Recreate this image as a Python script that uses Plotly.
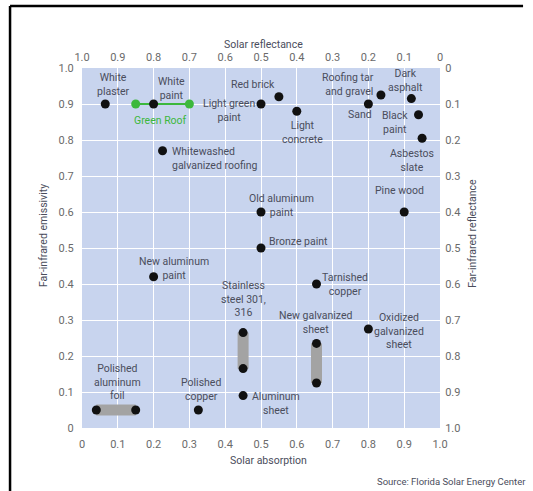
import plotly.graph_objects as go

# ---------------- data ----------------
# single-point materials: solar absorption (x), far-infrared emissivity (y)
point_names = ["White plaster", "White paint", "Whitewashed galvanized roofing",
               "Light green paint", "Red brick", "Light concrete", "Sand",
               "Roofing tar and gravel", "Dark asphalt", "Black paint",
               "Asbestos slate", "Pine wood", "Old aluminum paint", "Bronze paint",
               "New aluminum paint", "Tarnished copper", "Oxidized galvanized sheet",
               "Aluminum sheet", "Polished copper"]
point_absorption = [0.065, 0.20, 0.225, 0.50, 0.55, 0.60, 0.80, 0.835, 0.92, 0.94,
                    0.95, 0.90, 0.50, 0.50, 0.20, 0.655, 0.80, 0.45, 0.325]
point_emissivity = [0.90, 0.90, 0.77, 0.90, 0.92, 0.88, 0.90, 0.925, 0.915, 0.87,
                    0.805, 0.60, 0.60, 0.50, 0.42, 0.40, 0.275, 0.09, 0.05]

# range materials: (absorption start, end), (emissivity start, end)
range_names = ["Polished aluminum foil", "Stainless steel 301, 316", "New galvanized sheet"]
range_absorption = [(0.04, 0.15), (0.45, 0.45), (0.655, 0.655)]
range_emissivity = [(0.05, 0.05), (0.165, 0.265), (0.125, 0.235)]

green_roof_absorption = [0.15, 0.30]
green_roof_emissivity = [0.90, 0.90]

tick_values = [0, 0.1, 0.2, 0.3, 0.4, 0.5, 0.6, 0.7, 0.8, 0.9, 1.0]
tick_labels = ["0", "0.1", "0.2", "0.3", "0.4", "0.5", "0.6", "0.7", "0.8", "0.9", "1.0"]
reverse_tick_labels = ["1.0", "0.9", "0.8", "0.7", "0.6", "0.5", "0.4", "0.3", "0.2", "0.1", "0"]

# ---------------- label layout (text, x, y, xanchor) ----------------
labels = [
    ("White<br>plaster", 0.087, 0.953, "center"),
    ("White<br>paint", 0.251, 0.944, "center"),
    ("Light green<br>paint", 0.41, 0.883, "center"),
    ("Whitewashed<br>galvanized roofing", 0.246, 0.75, "left"),
    ("Red brick", 0.478, 0.953, "center"),
    ("Light<br>concrete", 0.615, 0.822, "center"),
    ("Roofing tar<br>and gravel", 0.82, 0.955, "right"),
    ("Dark<br>asphalt", 0.905, 0.964, "center"),
    ("Sand", 0.776, 0.872, "center"),
    ("Black<br>paint", 0.874, 0.85, "center"),
    ("Asbestos<br>slate", 0.922, 0.744, "center"),
    ("Pine wood", 0.886, 0.661, "center"),
    ("Old aluminum<br>paint", 0.556, 0.617, "center"),
    ("Bronze paint", 0.517, 0.519, "left"),
    ("New aluminum<br>paint", 0.257, 0.444, "center"),
    ("Tarnished<br>copper", 0.735, 0.40, "center"),
    ("Stainless<br>steel 301,<br>316", 0.45, 0.358, "center"),
    ("New galvanized<br>sheet", 0.651, 0.294, "center"),
    ("Oxidized<br>galvanized<br>sheet", 0.885, 0.269, "center"),
    ("Polished<br>aluminum<br>foil", 0.098, 0.128, "center"),
    ("Polished<br>copper", 0.332, 0.108, "center"),
    ("Aluminum<br>sheet", 0.542, 0.069, "center"),
]

FONT = "Roboto, Arial, sans-serif"
TXT = "#4a4d5c"
BG = "#c8d4ee"
FS = 10.5

fig = go.Figure()

# range bars
for (xa, xb), (ya, yb), nm in zip(range_absorption, range_emissivity, range_names):
    fig.add_trace(go.Scatter(x=[xa, xb], y=[ya, yb], mode="lines",
                             line=dict(color="#a3a3a3", width=11),
                             hoverinfo="skip", showlegend=False))
    fig.add_trace(go.Scatter(x=[xa, xb], y=[ya, yb], mode="markers", name=nm,
                             marker=dict(color="#111111", size=9),
                             showlegend=False))

# green roof
fig.add_trace(go.Scatter(x=green_roof_absorption, y=green_roof_emissivity,
                         mode="lines+markers", name="Green Roof",
                         line=dict(color="#3cb83c", width=2),
                         marker=dict(color="#3cb83c", size=9), showlegend=False))

# single points
fig.add_trace(go.Scatter(x=point_absorption, y=point_emissivity, mode="markers",
                         text=point_names, marker=dict(color="#111111", size=9),
                         showlegend=False))

# secondary-axis helper trace (invisible)
fig.add_trace(go.Scatter(x=[0, 1], y=[0, 1], xaxis="x2", yaxis="y2", mode="markers",
                         marker=dict(opacity=0), hoverinfo="skip", showlegend=False))

annotations = []
for txt, x, y, anc in labels:
    annotations.append(dict(text=txt, x=x, y=y, xref="x", yref="y", xanchor=anc,
                            yanchor="middle", align=anc,
                            showarrow=False, font=dict(family=FONT, size=FS, color=TXT)))
annotations.append(dict(text="Green Roof", x=0.218, y=0.855, xref="x", yref="y",
                        xanchor="center", yanchor="middle",
                        showarrow=False, font=dict(family=FONT, size=FS, color="#3cb83c")))

# axis titles & source
annotations += [
    dict(text="Solar reflectance", x=0.506, y=1.064, xref="paper", yref="paper",
         xanchor="center", yanchor="middle",
         showarrow=False, font=dict(family=FONT, size=FS, color=TXT)),
    dict(text="Solar absorption", x=0.52, y=-0.089, xref="paper", yref="paper",
         xanchor="center", yanchor="middle",
         showarrow=False, font=dict(family=FONT, size=FS, color=TXT)),
    dict(text="Far-infrared emissivity", x=-0.109, y=0.536, xref="paper", yref="paper",
         xanchor="center", yanchor="middle",
         textangle=-90, showarrow=False, font=dict(family=FONT, size=FS, color=TXT)),
    dict(text="Far-infrared reflectance", x=1.092, y=0.542, xref="paper", yref="paper",
         xanchor="center", yanchor="middle",
         textangle=-90, showarrow=False, font=dict(family=FONT, size=FS, color=TXT)),
    dict(text="Source: Florida Solar Energy Center", x=1.246, y=-0.15, xref="paper",
         yref="paper", xanchor="right", yanchor="middle", showarrow=False,
         font=dict(family=FONT, size=9.5, color=TXT)),
]

tickfont = dict(family=FONT, size=11, color="#6a6a6a")

fig.update_layout(
    width=533, height=491,
    margin=dict(l=82, r=93, t=68, b=63),
    paper_bgcolor="white", plot_bgcolor=BG,
    font=dict(family=FONT, color=TXT),
    annotations=annotations,
    xaxis=dict(range=[0, 1], tickvals=tick_values, ticktext=tick_labels,
               showgrid=True, gridcolor="white", gridwidth=1, zeroline=False,
               ticks="outside", ticklen=6, tickcolor="rgba(0,0,0,0)",
               tickfont=tickfont, showline=False, fixedrange=True),
    yaxis=dict(range=[0, 1], tickvals=tick_values, ticktext=tick_labels,
               showgrid=True, gridcolor="white", gridwidth=1, zeroline=False,
               ticks="outside", ticklen=5, tickcolor="rgba(0,0,0,0)",
               tickfont=tickfont, showline=False, fixedrange=True),
    xaxis2=dict(range=[0, 1], overlaying="x", side="top", anchor="free", position=1,
                tickvals=tick_values, ticktext=reverse_tick_labels,
                showgrid=False, zeroline=False, ticks="outside", ticklen=3,
                tickcolor="rgba(0,0,0,0)", tickfont=tickfont, fixedrange=True),
    yaxis2=dict(range=[0, 1], overlaying="y", side="right", anchor="x",
                tickvals=tick_values, ticktext=reverse_tick_labels,
                showgrid=False, zeroline=False, ticks="outside", ticklen=2,
                tickcolor="rgba(0,0,0,0)", tickfont=tickfont, fixedrange=True),
    shapes=[
        dict(type="line", xref="paper", yref="paper", x0=-0.201, x1=1.232,
             y0=1.172, y1=1.172, line=dict(color="black", width=2.5)),
        dict(type="line", xref="paper", yref="paper", x0=-0.201, x1=-0.201,
             y0=1.172, y1=-0.18, line=dict(color="black", width=2.5)),
    ],
)

fig.write_html("out.html", config={"displayModeBar": False},
               post_script="document.body.style.margin='0px';document.body.style.overflow='hidden';")
